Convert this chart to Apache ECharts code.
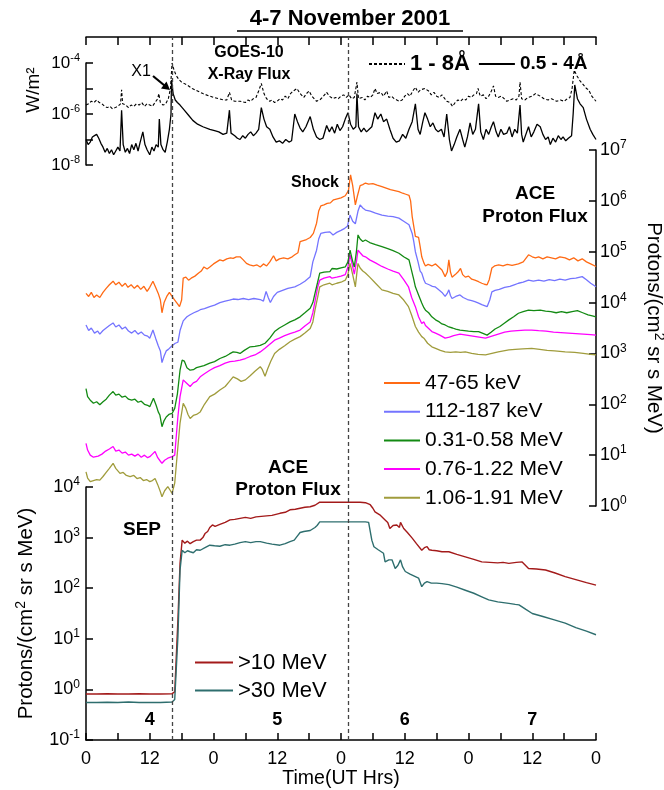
<!DOCTYPE html>
<html><head><meta charset="utf-8">
<script src="https://cdn.jsdelivr.net/npm/echarts@6/dist/echarts.min.js"></script>
<style>html,body{margin:0;padding:0;background:#fff}#c{width:664px;height:790px}</style>
</head><body><div id="c"></div>
<script>
// Time: hours since 2001-11-04 00 UT. Values: log10 of flux.
const FONT = 'Liberation Sans, Arial, sans-serif';
const timeTicks = [0, 12, 24, 36, 48, 60, 72, 84, 96];
const dayNames = ['4', '5', '6', '7'];
const flareTime = 16.2, shockTime = 49.3;

// GOES-10 X-ray flux (W/m^2), log10
const goesLong = [[0,-5.65],[0.5,-5.6],[1,-5.5],[1.5,-5.55],[2,-5.45],[2.5,-5.55],[3,-5.6],[3.5,-5.7],[4,-5.75],[4.5,-5.7],[5,-5.8],[5.5,-5.75],[6,-5.7],[6.5,-5.6],[6.7,-5.05],[6.9,-5.6],[7.5,-5.65],[8,-5.75],[8.5,-5.65],[9,-5.7],[9.5,-5.6],[10,-5.65],[10.5,-5.55],[11,-5.7],[11.5,-5.6],[12,-5.65],[12.5,-5.7],[13,-5.55],[13.5,-5.4],[13.7,-5.2],[14,-5.55],[14.5,-5.65],[15,-5.6],[15.5,-5.4],[15.9,-5.0],[16.2,-4.0],[16.6,-4.3],[17,-4.5],[17.5,-4.65],[18,-4.75],[19,-4.86],[20,-5.0],[21,-5.1],[22,-5.2],[23.3,-5.3],[24,-5.35],[25,-5.4],[26,-5.45],[26.5,-5.45],[27,-5.15],[27.4,-5.45],[28,-5.5],[29,-5.5],[30,-5.55],[30.5,-5.45],[31,-5.5],[31.5,-5.4],[32,-5.35],[32.5,-5.1],[33,-4.8],[33.5,-5.2],[34,-5.4],[34.6,-5.5],[35,-5.45],[35.5,-5.55],[36,-5.5],[36.5,-5.4],[37,-5.45],[37.5,-5.3],[38,-5.4],[38.5,-5.2],[39,-5.1],[39.7,-5.0],[40.3,-5.2],[41,-5.35],[41.5,-5.2],[42,-5.1],[42.5,-5.3],[43.4,-5.5],[44,-5.45],[44.5,-5.35],[45.3,-5.15],[45.8,-5.3],[46.5,-5.4],[47,-5.35],[47.5,-5.4],[48,-5.3],[48.5,-5.25],[49,-5.35],[49.5,-5.25],[50,-5.4],[50.5,-5.35],[51,-4.75],[51.3,-5.4],[52,-5.35],[52.5,-5.45],[53,-5.3],[53.5,-5.35],[54,-5.25],[54.4,-5.0],[54.8,-5.2],[55.5,-5.15],[56,-5.3],[56.6,-5.1],[57,-5.35],[57.5,-5.3],[58,-5.4],[58.5,-5.45],[59,-5.5],[59.5,-5.45],[60,-5.3],[60.5,-5.2],[61,-5.3],[61.5,-5.1],[62,-4.95],[62.5,-5.15],[63,-5.05],[63.8,-5.0],[64.5,-5.1],[65,-5.25],[65.5,-5.15],[66,-5.3],[66.5,-5.35],[67,-5.25],[67.9,-5.5],[68.5,-5.55],[69,-5.7],[69.5,-5.55],[70,-5.45],[70.5,-5.5],[71,-5.4],[71.5,-5.45],[72,-5.3],[72.5,-5.35],[73,-5.25],[73.5,-5.2],[73.8,-5.0],[74.2,-5.3],[74.8,-5.25],[75.3,-5.4],[75.8,-5.3],[76.3,-5.1],[76.7,-4.9],[77.1,-5.3],[77.6,-5.35],[78.2,-5.3],[79.2,-5.5],[79.8,-5.45],[80.4,-5.4],[81,-5.45],[81.5,-5.3],[81.7,-4.75],[82,-5.4],[82.6,-5.45],[83.2,-5.35],[84,-5.3],[84.6,-5.2],[85.5,-5.3],[86.2,-5.4],[87,-5.45],[87.6,-5.4],[88.6,-5.5],[89.3,-5.45],[90,-5.5],[90.6,-5.4],[91.1,-5.35],[91.5,-5.0],[91.9,-4.28],[92.4,-4.5],[93,-4.7],[93.6,-4.85],[94.2,-5.0],[94.6,-5.05],[95.2,-5.3],[96,-5.5]];
const goesShort = [[0,-7.0],[0.4,-7.2],[0.8,-7.1],[1.2,-6.9],[1.6,-6.85],[2,-6.8],[2.4,-6.95],[2.8,-7.15],[3.2,-7.3],[3.6,-7.5],[4,-7.35],[4.4,-7.55],[4.8,-7.4],[5.2,-7.6],[5.6,-7.45],[6,-7.3],[6.4,-7.45],[6.7,-5.85],[7,-7.2],[7.4,-7.5],[7.8,-7.35],[8.2,-7.55],[8.6,-7.2],[9,-7.4],[9.4,-7.15],[9.8,-7.45],[10.2,-7.1],[10.7,-6.7],[11.1,-7.2],[11.5,-7.4],[12,-7.6],[12.4,-7.3],[12.8,-7.45],[13.2,-7.2],[13.6,-7.3],[13.8,-6.2],[14.1,-7.2],[14.5,-7.4],[14.9,-7.5],[15.3,-7.1],[15.7,-6.6],[16.0,-6.0],[16.1,-4.67],[16.4,-5.2],[16.8,-5.45],[17.2,-5.55],[17.7,-5.65],[18.5,-5.85],[19.3,-6.05],[20.1,-6.25],[21,-6.4],[22,-6.5],[23.3,-6.6],[24.2,-6.65],[25,-6.7],[25.8,-6.8],[26.5,-6.75],[27,-5.85],[27.3,-6.75],[28,-6.85],[28.5,-6.95],[29,-7.0],[29.5,-6.85],[30,-6.95],[30.5,-6.8],[31,-6.7],[31.5,-6.85],[32,-6.75],[32.5,-6.6],[33,-5.75],[33.5,-6.2],[34,-6.5],[34.6,-6.6],[35.2,-6.9],[35.8,-7.1],[36.4,-7.05],[37,-7.15],[37.6,-7.0],[38.2,-7.1],[38.7,-7.05],[39.3,-6.0],[39.8,-6.3],[40.3,-6.55],[40.8,-6.7],[41.4,-6.5],[42.2,-6.1],[42.8,-6.6],[43.4,-6.9],[44,-7.0],[44.6,-6.95],[45.3,-6.45],[45.8,-6.7],[46.3,-6.5],[46.8,-6.75],[47.3,-6.4],[47.8,-6.65],[48.3,-6.5],[48.8,-6.2],[49.3,-5.95],[49.8,-6.4],[50.3,-6.6],[50.8,-6.5],[51.0,-5.2],[51.3,-6.5],[51.8,-6.7],[52.3,-6.55],[52.8,-6.7],[53.3,-6.6],[53.8,-6.5],[54.4,-5.95],[54.9,-6.2],[55.5,-6.0],[56,-6.3],[56.6,-6.2],[57.2,-6.6],[57.8,-6.95],[58.4,-7.1],[59,-7.05],[59.6,-6.8],[60.2,-6.95],[60.8,-6.6],[61.4,-6.3],[62,-5.6],[62.5,-6.6],[62.9,-6.8],[63.4,-6.3],[63.8,-5.95],[64.3,-6.2],[64.8,-6.5],[65.3,-6.35],[65.8,-6.6],[66.3,-6.7],[66.9,-6.6],[67.4,-6.9],[67.9,-6.0],[68.4,-7.0],[68.8,-7.45],[69.3,-7.2],[69.8,-6.9],[70.4,-6.6],[70.9,-7.0],[71.3,-7.3],[71.8,-6.9],[72.3,-6.35],[72.8,-6.8],[73.3,-6.6],[73.9,-5.6],[74.3,-6.7],[74.8,-7.0],[75.3,-6.6],[75.8,-6.8],[76.3,-6.5],[76.7,-6.3],[77.2,-6.7],[77.6,-6.9],[78.1,-6.6],[78.6,-6.8],[79.2,-6.75],[79.7,-6.5],[80.2,-6.9],[80.7,-6.6],[81.2,-6.75],[81.7,-5.65],[82.0,-6.8],[82.3,-7.1],[82.8,-6.8],[83.3,-6.5],[83.8,-6.9],[84.3,-6.7],[84.9,-6.4],[85.5,-6.5],[86,-6.8],[86.5,-7.0],[87,-6.9],[87.4,-7.2],[87.9,-6.95],[88.4,-7.1],[88.9,-6.85],[89.4,-7.0],[89.8,-6.9],[90.3,-7.05],[90.8,-6.95],[91.4,-6.85],[91.7,-6.0],[92.0,-4.86],[92.5,-5.4],[93.0,-5.6],[93.6,-5.75],[94.2,-6.2],[94.9,-6.6],[95.4,-6.8],[96,-7.0]];

// ACE EPAM proton channels, log10 of Protons/(cm2 sr s MeV)
const p47 = [[0,4.18],[0.5,4.12],[1,4.2],[1.5,4.1],[2,4.15],[2.6,4.1],[3.2,4.2],[3.8,4.28],[4.4,4.35],[5.1,4.42],[5.6,4.35],[6.2,4.4],[6.8,4.32],[7.4,4.38],[7.9,4.3],[8.5,4.35],[9.1,4.28],[9.7,4.34],[10.3,4.26],[10.9,4.32],[11.5,4.22],[12,4.3],[12.6,4.42],[13.1,4.3],[13.6,4.18],[14.0,4.05],[14.3,3.8],[14.7,4.0],[15.2,4.12],[15.7,4.2],[16.2,4.12],[16.7,4.05],[17.2,3.98],[17.6,3.92],[18.0,4.05],[18.3,4.48],[18.8,4.5],[19.3,4.44],[19.8,4.48],[20.5,4.52],[21.2,4.58],[21.7,4.62],[22.2,4.7],[22.8,4.66],[23.3,4.7],[24.0,4.76],[24.6,4.8],[25.2,4.84],[25.8,4.82],[26.5,4.86],[27.2,4.88],[27.7,4.87],[28.3,4.9],[29,4.9],[29.6,4.84],[30.2,4.77],[30.8,4.74],[31.5,4.72],[32.2,4.74],[32.8,4.7],[33.4,4.76],[34,4.72],[34.6,4.8],[35.3,4.92],[35.8,4.82],[36.4,4.86],[37.2,4.88],[38,4.86],[38.8,4.9],[39.3,4.94],[39.9,4.98],[40.3,5.2],[40.9,5.22],[41.5,5.24],[42.2,5.28],[42.8,5.36],[43.4,5.56],[43.8,5.8],[44.2,5.9],[44.8,5.92],[45.4,5.95],[46.0,5.96],[46.6,6.02],[47.3,6.04],[48.0,6.06],[48.8,6.1],[49.4,6.2],[49.8,6.51],[50.2,6.3],[50.7,5.92],[51.1,6.1],[51.6,6.3],[52.1,6.32],[52.6,6.35],[53.2,6.33],[54,6.34],[54.8,6.31],[55.7,6.28],[56.5,6.25],[57.3,6.22],[58.1,6.2],[58.9,6.18],[59.6,6.15],[60.2,6.13],[60.8,6.11],[61.1,6.0],[61.4,5.69],[61.7,5.5],[62.0,5.3],[62.3,5.33],[62.6,5.28],[62.9,5.1],[63.2,4.9],[63.6,4.78],[63.9,4.72],[64.4,4.75],[65.1,4.72],[65.8,4.76],[66.4,4.7],[67.0,4.64],[67.6,4.51],[68.0,4.6],[68.3,4.84],[68.6,4.6],[68.9,4.5],[69.5,4.55],[70.0,4.6],[70.5,4.67],[70.9,4.55],[71.4,4.5],[72.0,4.52],[72.6,4.46],[73.2,4.44],[73.9,4.41],[74.5,4.38],[75.0,4.36],[75.5,4.35],[75.9,4.45],[76.4,4.68],[76.9,4.72],[77.7,4.74],[78.5,4.72],[79.3,4.75],[80.2,4.73],[81.4,4.76],[82.3,4.8],[83.3,4.94],[84.0,4.9],[84.6,4.88],[85.2,4.9],[86,4.86],[86.8,4.9],[87.6,4.88],[88.4,4.86],[89.2,4.9],[90.2,4.88],[91,4.84],[91.8,4.88],[92.6,4.82],[93.4,4.86],[94.2,4.8],[95,4.76],[96,4.71]];
const p112 = [[0,3.56],[0.5,3.45],[1,3.5],[1.6,3.4],[2.2,3.44],[2.6,3.38],[3.2,3.45],[3.8,3.5],[4.4,3.55],[5.1,3.6],[5.6,3.52],[6.2,3.56],[6.8,3.48],[7.4,3.52],[8.0,3.44],[8.6,3.4],[9.2,3.45],[9.8,3.38],[10.4,3.42],[11,3.36],[11.6,3.34],[12,3.3],[12.6,3.46],[13.1,3.3],[13.6,3.15],[14.0,3.05],[14.3,2.82],[14.7,2.95],[15.1,3.05],[15.5,3.08],[16.2,3.15],[16.8,3.2],[17.3,3.22],[17.7,3.45],[18.3,3.64],[19.0,3.72],[19.6,3.76],[20.3,3.8],[21.0,3.83],[21.5,3.86],[22.3,3.88],[23.3,3.92],[24.2,3.95],[25.2,4.0],[26.2,4.03],[27.0,4.05],[27.7,4.07],[28.6,4.06],[29.6,4.08],[30.6,4.06],[31.6,4.08],[32.8,4.06],[33.4,4.03],[33.9,4.22],[34.3,4.1],[34.7,4.0],[35.3,4.12],[36.0,4.2],[37.0,4.24],[38.0,4.28],[39.3,4.31],[40.3,4.36],[41.2,4.42],[42.2,4.51],[42.7,4.8],[43.4,5.03],[43.8,5.25],[44.2,5.36],[45.0,5.38],[45.9,5.39],[46.5,5.33],[47.2,5.38],[48.0,5.42],[48.7,5.46],[49.2,5.5],[49.7,5.72],[50.2,5.6],[50.7,5.55],[51.2,5.8],[51.6,5.92],[52.1,5.86],[52.6,5.82],[53.5,5.8],[54.5,5.76],[55.7,5.72],[56.8,5.7],[57.8,5.69],[58.9,5.66],[59.8,5.6],[60.8,5.53],[61.4,5.36],[61.7,5.2],[62.0,5.0],[62.5,4.8],[62.9,4.62],[63.2,4.58],[63.6,4.45],[63.9,4.38],[64.6,4.35],[65.2,4.32],[65.7,4.31],[66.4,4.25],[67.0,4.2],[67.6,4.12],[68.0,4.18],[68.3,4.25],[68.6,4.14],[68.9,4.08],[69.6,4.12],[70.4,4.15],[71.0,4.1],[71.8,4.06],[72.6,4.04],[73.2,4.02],[73.9,3.99],[74.5,3.96],[75.0,3.94],[75.5,3.92],[76.0,4.05],[76.4,4.21],[77.0,4.24],[77.8,4.26],[78.8,4.3],[79.8,4.32],[80.6,4.35],[81.4,4.38],[82.3,4.4],[83.3,4.44],[84.2,4.42],[85.2,4.44],[86.2,4.42],[87.2,4.45],[88.2,4.43],[89.2,4.46],[90.2,4.44],[91.2,4.47],[92.2,4.48],[93.4,4.51],[94.2,4.45],[95.0,4.38],[96,4.31]];
const p031 = [[0,2.31],[0.3,2.15],[0.8,2.08],[1.4,2.02],[2,2.05],[2.6,1.99],[3.2,2.05],[3.8,2.1],[4.4,2.18],[5.1,2.25],[5.6,2.18],[6.2,2.2],[6.8,2.14],[7.4,2.16],[8.0,2.1],[8.6,2.08],[9.2,2.1],[9.8,2.04],[10.4,2.06],[11,2.0],[11.6,1.98],[12,1.95],[12.7,2.12],[13.2,1.98],[13.6,1.85],[13.9,1.79],[14.3,1.56],[14.7,1.68],[15.1,1.75],[15.6,1.8],[16.2,1.82],[16.7,1.92],[17.2,2.2],[17.7,2.67],[18.1,2.87],[18.5,2.85],[19.0,2.72],[19.6,2.67],[20.2,2.68],[20.8,2.72],[21.5,2.74],[22.2,2.76],[23.3,2.81],[24.2,2.84],[25.2,2.9],[26.2,2.94],[27.0,2.99],[27.7,3.03],[28.4,3.02],[29.0,3.0],[29.8,3.06],[30.9,3.13],[31.8,3.14],[32.8,3.16],[33.7,3.2],[34.6,3.3],[35.5,3.43],[36.4,3.5],[37.4,3.56],[38.4,3.62],[39.3,3.66],[40.3,3.72],[41.2,3.8],[42.2,3.89],[42.7,4.0],[43.1,4.18],[43.6,4.4],[44.0,4.58],[44.8,4.6],[45.9,4.61],[46.3,4.67],[47.2,4.66],[48.0,4.68],[48.8,4.7],[49.3,4.8],[49.7,5.03],[50.1,4.85],[50.5,4.7],[50.9,5.0],[51.2,5.33],[51.6,5.25],[52.1,5.2],[52.6,5.23],[53.4,5.18],[54.5,5.14],[55.7,5.1],[56.8,5.06],[57.8,5.02],[58.9,4.97],[59.8,4.9],[60.8,4.84],[61.4,4.58],[61.7,4.45],[62.0,4.31],[62.6,4.15],[63.2,3.99],[63.6,3.9],[63.9,3.85],[64.5,3.8],[65.1,3.72],[65.8,3.66],[66.5,3.62],[67.0,3.58],[67.6,3.56],[68.3,3.52],[69.0,3.5],[69.6,3.48],[70.4,3.46],[71.2,3.45],[72.0,3.44],[73.0,3.43],[73.9,3.43],[74.6,3.4],[75.5,3.36],[76.3,3.42],[77.0,3.48],[77.9,3.53],[78.8,3.6],[79.6,3.66],[80.5,3.72],[81.4,3.79],[82.3,3.82],[83.3,3.85],[84.3,3.84],[85.5,3.85],[86.5,3.83],[87.5,3.82],[88.5,3.8],[89.5,3.82],[90.5,3.8],[91.5,3.82],[92.5,3.84],[93.5,3.8],[94.5,3.76],[95.3,3.74],[96,3.72]];
const p076 = [[0,1.23],[0.3,1.1],[0.8,1.0],[1.4,0.96],[1.7,0.94],[2.3,0.98],[3.0,1.02],[3.7,1.08],[4.4,1.12],[5.1,1.17],[5.6,1.08],[6.2,1.1],[6.8,1.04],[7.4,1.06],[8.0,1.0],[8.6,1.02],[9.2,0.98],[9.8,1.02],[10.4,0.96],[11.0,1.0],[11.6,0.95],[12,0.97],[12.5,1.02],[13,1.07],[13.5,0.95],[14.0,0.88],[14.3,0.84],[14.8,0.9],[15.4,0.94],[16.2,0.97],[16.7,1.0],[17.3,1.76],[17.7,2.15],[18.3,2.48],[18.9,2.42],[19.6,2.35],[20.2,2.42],[20.8,2.45],[21.5,2.54],[22.3,2.6],[23.3,2.67],[24.2,2.72],[25.2,2.76],[26.2,2.81],[27.1,2.84],[28.0,2.85],[29.0,2.87],[30.0,2.9],[30.9,2.94],[31.8,2.97],[32.8,3.03],[33.7,3.1],[34.6,3.18],[35.5,3.26],[36.4,3.3],[37.4,3.35],[38.4,3.39],[39.3,3.42],[40.3,3.46],[41.2,3.54],[42.2,3.62],[42.7,3.8],[43.1,4.02],[43.6,4.3],[44.0,4.44],[44.8,4.48],[45.9,4.51],[46.3,4.48],[47.2,4.5],[48.0,4.52],[48.8,4.55],[49.3,4.7],[49.7,4.94],[50.1,4.75],[50.5,4.56],[50.9,4.8],[51.2,5.03],[51.6,4.98],[52.1,4.92],[52.6,4.9],[53.4,4.84],[54.5,4.78],[55.7,4.71],[56.8,4.66],[57.8,4.62],[58.9,4.58],[59.8,4.45],[60.7,4.31],[61.3,4.1],[62.0,3.92],[62.6,3.72],[63.2,3.59],[63.6,3.62],[63.9,3.55],[64.4,3.5],[65.1,3.43],[65.8,3.4],[66.6,3.36],[67.6,3.3],[68.4,3.32],[69.2,3.35],[70.4,3.38],[71.6,3.36],[72.8,3.34],[74.0,3.32],[75.2,3.3],[76.4,3.34],[77.6,3.38],[78.8,3.42],[80.0,3.44],[81.2,3.45],[82.6,3.46],[83.9,3.46],[85.2,3.45],[86.6,3.44],[88.0,3.42],[89.4,3.41],[90.8,3.4],[92.2,3.39],[93.6,3.38],[95,3.37],[96,3.36]];
const p106 = [[0,0.67],[0.3,0.55],[0.8,0.48],[1.4,0.5],[2,0.52],[2.6,0.51],[3.2,0.58],[3.8,0.66],[4.4,0.74],[5.1,0.84],[5.6,0.74],[6.4,0.64],[7.0,0.66],[7.6,0.6],[8.3,0.58],[9.0,0.6],[9.6,0.54],[10.2,0.56],[10.8,0.5],[11.4,0.52],[12,0.48],[12.5,0.5],[13,0.54],[13.5,0.42],[14.0,0.28],[14.3,0.18],[14.8,0.3],[15.4,0.38],[15.9,0.3],[16.2,0.25],[16.7,0.45],[17.3,1.17],[17.7,1.63],[18.3,2.02],[18.8,1.92],[19.2,1.8],[19.6,1.72],[20.2,1.78],[20.8,1.8],[21.5,1.85],[22.3,2.0],[23.3,2.15],[24.2,2.2],[25.2,2.28],[26.2,2.35],[27.0,2.45],[27.7,2.54],[28.5,2.5],[29.2,2.45],[30.0,2.48],[30.9,2.56],[31.8,2.65],[32.8,2.74],[33.2,2.68],[33.7,2.55],[34.2,2.7],[34.8,2.85],[35.5,3.0],[36.4,3.08],[37.4,3.15],[38.4,3.23],[39.3,3.28],[40.3,3.33],[41.2,3.4],[42.2,3.49],[42.7,3.62],[43.1,3.85],[43.6,4.1],[44.0,4.31],[44.8,4.35],[45.9,4.38],[46.3,4.35],[47.2,4.38],[48.0,4.4],[48.8,4.44],[49.3,4.55],[49.7,4.77],[50.2,4.55],[50.7,4.31],[51.0,4.6],[51.2,4.77],[51.6,4.68],[52.1,4.62],[52.6,4.58],[53.4,4.5],[54.5,4.38],[55.7,4.25],[56.8,4.22],[57.8,4.18],[58.9,4.15],[59.8,4.05],[60.7,3.92],[61.3,3.75],[62.0,3.53],[62.6,3.42],[63.2,3.33],[63.6,3.3],[64.3,3.2],[65.1,3.13],[65.8,3.1],[66.7,3.06],[67.6,3.03],[68.6,3.02],[69.6,3.03],[70.5,3.02],[71.4,3.03],[72.6,3.0],[73.8,2.98],[75.2,2.97],[76.4,3.0],[77.6,3.03],[78.6,3.05],[79.6,3.07],[80.8,3.08],[82.2,3.09],[83.9,3.1],[85.4,3.08],[86.8,3.06],[88.2,3.05],[90.2,3.03],[92,3.02],[93.6,3.0],[95,2.98],[96,2.97]];

// ACE integral proton flux, log10
const gt10 = [[0,-0.09],[2,-0.09],[4,-0.085],[6,-0.09],[8,-0.09],[10,-0.085],[12,-0.09],[14,-0.09],[16.2,-0.085],[16.7,-0.05],[17.3,1.37],[17.7,2.49],[18.1,2.95],[18.6,2.89],[19.1,2.93],[19.6,2.88],[20.2,2.92],[20.8,2.95],[21.5,2.95],[22.0,3.0],[22.4,3.08],[22.9,3.12],[23.3,3.2],[23.8,3.25],[24.3,3.22],[25.2,3.26],[26.2,3.3],[27.1,3.35],[28.0,3.36],[29.0,3.38],[30.0,3.4],[31.0,3.38],[32.0,3.41],[33.0,3.42],[34.0,3.43],[35.0,3.44],[36.5,3.48],[37.5,3.5],[38.4,3.55],[39.4,3.56],[40.3,3.58],[41.2,3.6],[42.2,3.61],[43.1,3.64],[44.0,3.7],[46,3.7],[48,3.7],[50,3.7],[51.6,3.7],[52.6,3.69],[53.5,3.65],[54.0,3.58],[54.4,3.51],[55.3,3.45],[56.3,3.35],[56.8,3.3],[57.2,3.18],[57.8,3.24],[58.5,3.25],[59.0,3.2],[59.2,3.3],[59.8,3.18],[60.5,3.1],[61.4,2.99],[62.2,2.88],[63.2,2.75],[63.7,2.8],[64.2,2.82],[64.6,2.76],[65.1,2.75],[66.0,2.74],[67.0,2.72],[68.3,2.72],[69.8,2.67],[71.4,2.62],[73.0,2.57],[74.5,2.52],[76.0,2.51],[77.5,2.5],[78.5,2.51],[79.6,2.49],[81.0,2.51],[82.1,2.52],[83.3,2.39],[84.8,2.38],[86.5,2.36],[88.3,2.3],[90.2,2.23],[92.2,2.17],[94.2,2.11],[96,2.06]];
const gt30 = [[0,-0.26],[2,-0.26],[4,-0.255],[6,-0.26],[8,-0.25],[10,-0.26],[12,-0.26],[14,-0.26],[16.2,-0.25],[16.7,-0.2],[17.3,1.04],[17.7,2.36],[18.1,2.75],[18.6,2.7],[19.1,2.74],[19.6,2.72],[20.2,2.7],[20.8,2.76],[21.5,2.75],[22.4,2.8],[23.3,2.85],[24.2,2.84],[25.2,2.83],[26.2,2.86],[27.1,2.85],[28.0,2.87],[29.0,2.9],[30.0,2.92],[31.0,2.9],[32.0,2.92],[32.8,2.92],[34.0,2.89],[35.0,2.87],[36.5,2.85],[37.5,2.88],[38.4,2.92],[39.2,2.95],[39.7,3.02],[40.3,3.1],[41.0,3.12],[42.2,3.14],[43.1,3.2],[43.5,3.24],[44.0,3.31],[46,3.31],[48,3.31],[50,3.31],[52.6,3.31],[53.2,3.3],[53.8,2.95],[54.2,2.82],[55.0,2.76],[56.0,2.69],[56.3,2.52],[57.0,2.56],[57.6,2.56],[58.2,2.39],[58.7,2.45],[59.2,2.56],[59.6,2.42],[60.1,2.33],[61.0,2.28],[62.0,2.23],[62.6,2.2],[63.2,2.03],[63.7,2.1],[64.2,2.13],[65.0,2.1],[66.0,2.1],[67.0,2.09],[68.3,2.07],[69.8,2.02],[71.4,1.96],[73.0,1.9],[74.5,1.83],[75.8,1.77],[77.5,1.73],[79.6,1.7],[80.8,1.68],[81.5,1.67],[82.8,1.58],[84.0,1.5],[86.0,1.44],[88.0,1.38],[90.2,1.31],[92.2,1.22],[94.2,1.15],[96,1.08]];

const toXY = a => a.map(p => [p[0], Math.pow(10, p[1])]);
const expLabel = v => { const e = Math.round(Math.log10(v)); return '10{s|' + e + '}'; };
const supRich = (fs) => ({ s: { fontSize: fs, verticalAlign: 'top', lineHeight: fs, fontFamily: FONT, color: '#000' } });
const DASH_ICON = 'path://M0,0h3v2h-3zM5,0h3v2h-3zM10,0h3v2h-3zM15,0h3v2h-3zM20,0h3v2h-3zM25,0h3v2h-3zM30,0h3v2h-3zM35,0h1v2h-1z';

const chart = echarts.init(document.getElementById('c'), null, { renderer: 'canvas' });

const L = 86, R = 68;
function line(name, data, color, xi, yi, extra) {
  return Object.assign({
    name, type: 'line', xAxisIndex: xi, yAxisIndex: yi, data: toXY(data),
    symbol: 'none', showSymbol: false, animation: false,
    lineStyle: { color, width: 1.3 }, itemStyle: { color }
  }, extra || {});
}
const axLine = { show: true, onZero: false, lineStyle: { color: '#000', width: 1.5 } };
const axTick = (len) => ({ show: true, inside: true, length: len, lineStyle: { color: '#000', width: 1.5 } });
const gridBase = { left: L, right: R, containLabel: false, outerBoundsMode: 'none' };

const option = {
  animation: false,
  backgroundColor: '#fff',
  textStyle: { fontFamily: FONT, color: '#000' },
  grid: [
    Object.assign({ top: 63, height: 102 }, gridBase),
    Object.assign({ top: 150, height: 356 }, gridBase),
    Object.assign({ top: 487, bottom: 50 }, gridBase),
    Object.assign({ top: 37, bottom: 50 }, gridBase)
  ],
  xAxis: [
    { gridIndex: 0, type: 'value', min: 0, max: 96, interval: 6, position: 'top', offset: 26,
      axisLine: axLine, axisTick: axTick(8), axisLabel: { show: false }, splitLine: { show: false } },
    { gridIndex: 1, type: 'value', min: 0, max: 96, show: false },
    { gridIndex: 2, type: 'value', min: 0, max: 96, interval: 6, position: 'bottom',
      name: 'Time(UT Hrs)', nameLocation: 'middle', nameGap: 28,
      nameTextStyle: { fontSize: 19.5, color: '#000', fontFamily: FONT },
      axisLine: axLine, axisTick: axTick(7),
      axisLabel: { fontSize: 18, color: '#000', margin: 10, showMaxLabel: true, showMinLabel: true,
        formatter: v => (timeTicks.indexOf(v) >= 0 ? String(v % 24) : '') },
      splitLine: { show: false } },
    { gridIndex: 3, type: 'value', min: 0, max: 96, show: false },
    { gridIndex: 2, type: 'value', min: 0, max: 96, interval: 12, position: 'bottom',
      axisLine: { show: false, onZero: false }, axisTick: { show: false }, splitLine: { show: false },
      axisLabel: { inside: true, margin: 11, fontSize: 18, fontWeight: 'bold', color: '#000', showMaxLabel: false,
        formatter: v => (v % 24 === 12 ? dayNames[Math.floor(v / 24)] : '') } }
  ],
  yAxis: [
    { gridIndex: 0, type: 'log', min: 1e-8, max: 1e-4, position: 'left',
      axisLine: axLine, axisTick: axTick(7),
      axisLabel: { fontSize: 17, lineHeight: 22, color: '#000', margin: 6,
        formatter: v => { const e = Math.round(Math.log10(v)); return (e % 2 === 0) ? '10{s|' + e + '}' : ''; },
        rich: supRich(11) },
      splitLine: { show: false } },
    { gridIndex: 1, type: 'log', min: 1, max: 1e7, position: 'right',
      axisLine: axLine, axisTick: axTick(7),
      axisLabel: { fontSize: 18, lineHeight: 22, color: '#000', margin: 4, formatter: expLabel, rich: supRich(12) },
      splitLine: { show: false },
      name: 'Protons/(cm{s|2} sr s MeV)', nameLocation: 'middle', nameGap: 46, nameRotate: -90,
      nameTextStyle: { fontSize: 20.5, color: '#000', fontFamily: FONT, lineHeight: 24, rich: supRich(14) } },
    { gridIndex: 2, type: 'log', min: 0.1, max: 1e4, position: 'left',
      axisLine: axLine, axisTick: axTick(7),
      axisLabel: { fontSize: 18, lineHeight: 22, color: '#000', margin: 6, formatter: expLabel, rich: supRich(12) },
      splitLine: { show: false },
      name: 'Protons/(cm{s|2} sr s MeV)', nameLocation: 'middle', nameGap: 42, nameRotate: 90,
      nameTextStyle: { fontSize: 20.5, color: '#000', fontFamily: FONT, lineHeight: 24, rich: supRich(14) } },
    { gridIndex: 3, type: 'value', min: 0, max: 1, show: false }
  ],
  legend: [
    { data: [{ name: '1 - 8Å', icon: DASH_ICON }, { name: '0.5 - 4Å', icon: 'rect' }],
      left: 364, top: 48, itemWidth: 36, itemHeight: 2, itemGap: 9, symbolKeepAspect: false,
      itemStyle: { borderWidth: 0 },
      formatter: n => (n === '1 - 8Å' ? '{a|' + n + '}' : '{b|' + n + '}'),
      textStyle: { color: '#000', fontFamily: FONT,
        rich: { a: { fontSize: 22, fontWeight: 'bold', fontFamily: FONT }, b: { fontSize: 19, fontWeight: 'bold', fontFamily: FONT } } },
      selectedMode: false },
    { data: ['47-65 keV', '112-187 keV', '0.31-0.58 MeV', '0.76-1.22 MeV', '1.06-1.91 MeV'].map(n => ({ name: n, icon: 'rect' })),
      orient: 'vertical', left: 379, top: 367, itemWidth: 36, itemHeight: 2, itemGap: 6.7,
      itemStyle: { borderWidth: 0 },
      textStyle: { fontSize: 21, color: '#000', fontFamily: FONT, lineHeight: 22 }, selectedMode: false },
    { data: ['>10 MeV', '>30 MeV'].map(n => ({ name: n, icon: 'rect' })),
      orient: 'vertical', left: 190, top: 646, itemWidth: 38, itemHeight: 2, itemGap: 5,
      itemStyle: { borderWidth: 0 },
      textStyle: { fontSize: 22, color: '#000', fontFamily: FONT, lineHeight: 23 }, selectedMode: false }
  ],
  series: [
    line('0.5 - 4Å', goesShort, '#000', 0, 0, { lineStyle: { color: '#000', width: 1.3 } }),
    line('1 - 8Å', goesLong, '#000', 0, 0, { lineStyle: { color: '#000', width: 1.1, type: [3, 2] } }),
    line('1.06-1.91 MeV', p106, '#A09C3C', 1, 1),
    line('0.76-1.22 MeV', p076, '#FF00FF', 1, 1),
    line('0.31-0.58 MeV', p031, '#138A13', 1, 1),
    line('112-187 keV', p112, '#7474FF', 1, 1),
    line('47-65 keV', p47, '#FF6A14', 1, 1),
    line('>10 MeV', gt10, '#A31A1A', 2, 2, { lineStyle: { color: '#A31A1A', width: 1.4 } }),
    line('>30 MeV', gt30, '#2E6E6E', 2, 2, { lineStyle: { color: '#2E6E6E', width: 1.4 } }),
    { type: 'line', xAxisIndex: 3, yAxisIndex: 3, data: [], silent: true,
      markLine: { symbol: 'none', silent: true, label: { show: false },
        lineStyle: { color: '#444', type: [4, 3], width: 1.3 },
        data: [{ xAxis: flareTime }, { xAxis: shockTime }] } }
  ],
  graphic: [
    { type: 'text', x: 350, y: 19, style: { text: '4-7 November 2001', fontSize: 22, fontWeight: 'bold', fontFamily: FONT, fill: '#000', align: 'center', verticalAlign: 'middle' } },
    { type: 'line', shape: { x1: 237, y1: 31, x2: 463, y2: 31 }, style: { stroke: '#000', lineWidth: 1.6 } },
    { type: 'text', x: 34, y: 90, rotation: Math.PI / 2, style: { text: 'W/m²', fontSize: 19, fontFamily: FONT, fill: '#000', align: 'center', verticalAlign: 'middle' } },
    { type: 'text', x: 141, y: 72, style: { text: 'X1', fontSize: 16, fontFamily: FONT, fill: '#000', align: 'center', verticalAlign: 'middle' } },
    { type: 'line', shape: { x1: 153, y1: 76, x2: 164.5, y2: 85.5 }, style: { stroke: '#000', lineWidth: 2.2 } },
    { type: 'polygon', shape: { points: [[170, 90], [161, 88.5], [166.5, 81.5]] }, style: { fill: '#000' } },
    { type: 'text', x: 249, y: 53, style: { text: 'GOES-10', fontSize: 16, fontWeight: 'bold', fontFamily: FONT, fill: '#000', align: 'center', verticalAlign: 'middle' } },
    { type: 'text', x: 249, y: 75, style: { text: 'X-Ray Flux', fontSize: 16, fontWeight: 'bold', fontFamily: FONT, fill: '#000', align: 'center', verticalAlign: 'middle' } },
    { type: 'text', x: 315, y: 183, style: { text: 'Shock', fontSize: 16, fontWeight: 'bold', fontFamily: FONT, fill: '#000', align: 'center', verticalAlign: 'middle' } },
    { type: 'text', x: 535, y: 194, style: { text: 'ACE', fontSize: 19, fontWeight: 'bold', fontFamily: FONT, fill: '#000', align: 'center', verticalAlign: 'middle' } },
    { type: 'text', x: 535, y: 217, style: { text: 'Proton Flux', fontSize: 19, fontWeight: 'bold', fontFamily: FONT, fill: '#000', align: 'center', verticalAlign: 'middle' } },
    { type: 'text', x: 288, y: 468, style: { text: 'ACE', fontSize: 19, fontWeight: 'bold', fontFamily: FONT, fill: '#000', align: 'center', verticalAlign: 'middle' } },
    { type: 'text', x: 288, y: 490, style: { text: 'Proton Flux', fontSize: 19, fontWeight: 'bold', fontFamily: FONT, fill: '#000', align: 'center', verticalAlign: 'middle' } },
    { type: 'text', x: 142, y: 530, style: { text: 'SEP', fontSize: 19, fontWeight: 'bold', fontFamily: FONT, fill: '#000', align: 'center', verticalAlign: 'middle' } }
  ]
};
chart.setOption(option);
</script>
</body></html>
